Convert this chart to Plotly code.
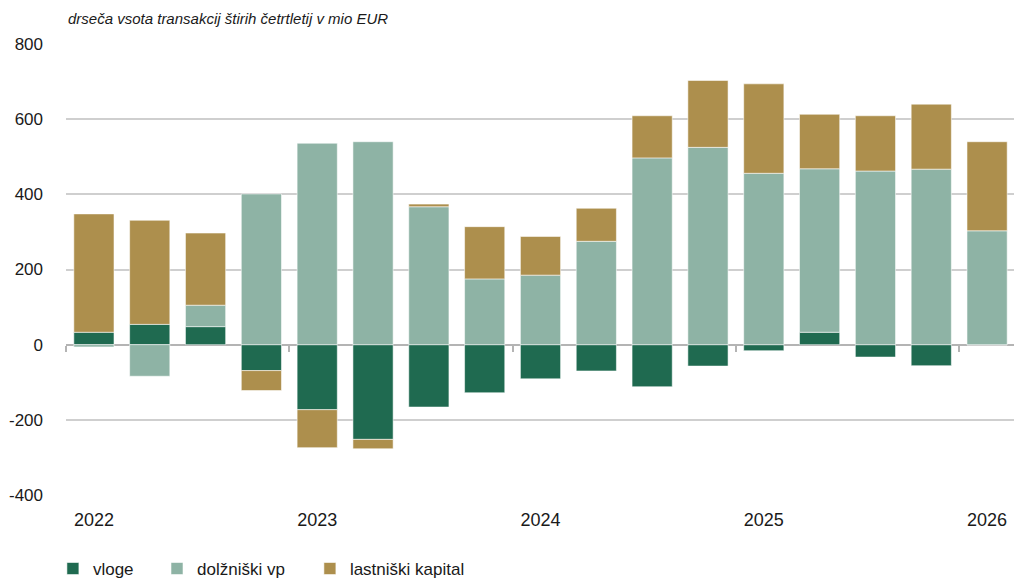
import plotly.graph_objects as go

quarters = ["2022Q1", "2022Q2", "2022Q3", "2022Q4",
            "2023Q1", "2023Q2", "2023Q3", "2023Q4",
            "2024Q1", "2024Q2", "2024Q3", "2024Q4",
            "2025Q1", "2025Q2", "2025Q3", "2025Q4",
            "2026Q1"]
vloge = [33, 54, 48, -69, -173, -252, -166, -128, -91, -70, -112, -57, -16, 33, -33, -56, -1]
dolzniski_vp = [-6, -84, 57, 401, 536, 540, 367, 175, 185, 275, 497, 525, 456, 435, 462, 467, 303]
lastniski_kapital = [315, 277, 192, -53, -101, -25, 7, 139, 103, 88, 112, 178, 238, 145, 147, 173, 237]

year_ticks = ["2022Q1", "2023Q1", "2024Q1", "2025Q1", "2026Q1"]
year_labels = ["2022", "2023", "2024", "2025", "2026"]
y_ticks = [-400, -200, 0, 200, 400, 600, 800]
y_labels = ["-400", "-200", "0", "200", "400", "600", "800"]

FONT = "Liberation Sans, Arial, sans-serif"
C_VLOGE = "#1F6A50"
C_DOLZ = "#8EB3A5"
C_LAST = "#AD8F4D"

fig = go.Figure()
for name, vals, col, lg in [("vloge", vloge, C_VLOGE, "legend"),
                            ("dolžniški vp", dolzniski_vp, C_DOLZ, "legend2"),
                            ("lastniški kapital", lastniski_kapital, C_LAST, "legend3")]:
    fig.add_trace(go.Bar(x=quarters, y=vals, name=name, marker_color=col,
                         marker_line=dict(color="rgba(255,255,255,0.55)", width=1),
                         width=0.72, legend=lg))

# boundary tick marks on the zero line (decorative axis)
n = len(quarters)
bounds = [i - 0.5 for i in range(0, n, 4)]
fig.add_trace(go.Scatter(x=[bounds[0]], y=[0], xaxis="x2", mode="markers",
                         marker=dict(opacity=0), showlegend=False, hoverinfo="skip"))

legend_common = dict(orientation="h", yanchor="middle", xanchor="left",
                     font=dict(family=FONT, size=17, color="#1a1a1a"),
                     bgcolor="rgba(0,0,0,0)", itemwidth=30, tracegroupgap=0)
fig.update_layout(
    width=1022, height=581,
    margin=dict(l=58, r=15, t=36, b=94, autoexpand=False),
    paper_bgcolor="white", plot_bgcolor="white",
    barmode="relative", bargap=0.28,
    font=dict(family=FONT, color="#1a1a1a"),
    legend=dict(x=-0.0138, y=-0.164, **legend_common),
    legend2=dict(x=0.0959, y=-0.164, **legend_common),
    legend3=dict(x=0.257, y=-0.164, **legend_common),
    xaxis=dict(type="category", categoryorder="array", categoryarray=quarters,
               range=[-0.5, n - 0.5], automargin=False,
               tickmode="array", tickvals=year_ticks, ticktext=year_labels,
               ticks="", showgrid=False, showline=False, zeroline=False,
               tickfont=dict(family=FONT, size=18, color="#1a1a1a"),
               ticklabelstandoff=12),
    xaxis2=dict(overlaying="x", anchor="free", position=1/3, range=[-0.5, n - 0.5],
                tickmode="array", tickvals=bounds, ticks="outside", ticklen=6,
                tickcolor="#B4B4B4", tickwidth=1.5, showticklabels=False,
                showgrid=False, showline=False, zeroline=False, automargin=False),
    yaxis=dict(range=[-400, 800], tickmode="array", tickvals=y_ticks, ticktext=y_labels,
               showgrid=True, gridcolor="#CFCFCF", gridwidth=1.5, automargin=False,
               zeroline=True, zerolinecolor="#B4B4B4", zerolinewidth=1.5,
               showline=False, ticks="",
               tickfont=dict(family=FONT, size=17, color="#1a1a1a"),
               ticklabelstandoff=22),
    annotations=[dict(text="drseča vsota transakcij štirih četrtletij v mio EUR",
                      xref="paper", yref="paper", x=0.0, y=1.0, yshift=26,
                      xanchor="left", yanchor="middle", showarrow=False,
                      font=dict(family=FONT, size=15, color="#1a1a1a", style="italic"))],
)

fig.write_html("out.html")
